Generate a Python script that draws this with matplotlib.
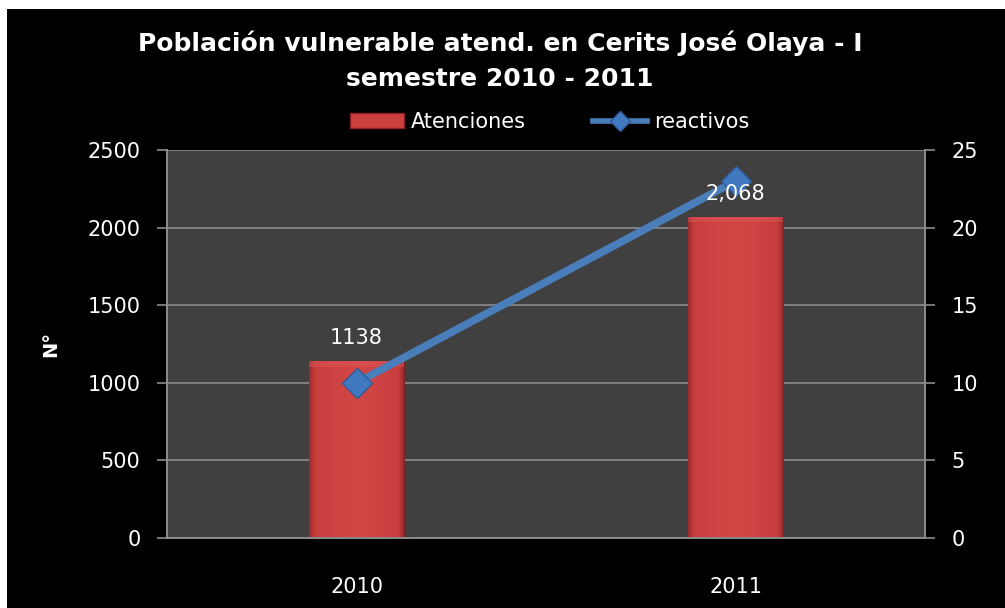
import matplotlib
matplotlib.use("Agg")
import matplotlib.pyplot as plt
import numpy as np
from matplotlib.patches import Rectangle
from matplotlib.lines import Line2D
from matplotlib.colors import LinearSegmentedColormap

years = ["2010", "2011"]
atenciones = [1138, 2068]
atenciones_labels = ["1138", "2,068"]
reactivos = [10, 23]

plt.rcParams['font.family'] = ['DejaVu Sans']

fig = plt.figure(figsize=(10.05, 6.08), dpi=100)
fig.patch.set_facecolor('white')
fig.patches.append(Rectangle((7/1005, 0), 1 - 7/1005, 1 - 9/608, transform=fig.transFigure,
                             facecolor='black', edgecolor='none', zorder=-10))

ax = fig.add_axes([167/1005, 70/608, 758/1005, 388/608])
ax.set_facecolor('#404040')
x = np.arange(len(years))
bars = ax.bar(x, atenciones, width=0.25, color='#cc4040', edgecolor='#7a2020', linewidth=0.8, zorder=2)

cmap = LinearSegmentedColormap.from_list('bev', [(0, '#9e2c2c'), (0.06, '#c83e3e'), (0.5, '#d24646'),
                                                 (0.94, '#c83e3e'), (1, '#9e2c2c')])
grad = np.linspace(0, 1, 200).reshape(1, -1)
for b in bars:
    bx, by = b.get_x(), b.get_y()
    w, h = b.get_width(), b.get_height()
    im = ax.imshow(grad, extent=[bx, bx + w, by, by + h], aspect='auto', cmap=cmap, zorder=2.1)
    im.set_clip_path(b)
    ax.add_patch(Rectangle((bx, by + h - 35), w, 35, facecolor='#e05c5c', edgecolor='none', zorder=2.2, alpha=0.4))

ax.set_xlim(-0.5, 1.5)
ax.set_ylim(0, 2500)
ax.set_yticks(np.arange(0, 2501, 500))
ax.set_xticks(x)
ax.set_xticklabels(years)
ax.grid(axis='y', color='#8c8c8c', linewidth=1.2, zorder=0)
ax.set_axisbelow(True)
for s in ax.spines.values():
    s.set_color('#8c8c8c')
    s.set_linewidth(1.2)
ax.spines['top'].set_visible(False)
ax.tick_params(axis='y', colors='#8c8c8c', labelcolor='white', labelsize=15, length=7, width=1.2, pad=12)
ax.tick_params(axis='x', colors='#8c8c8c', labelcolor='white', labelsize=15, length=0, pad=28)
ax.set_ylabel('N°', color='white', fontsize=14, fontweight='bold', labelpad=20)

ax2 = ax.twinx()
ax2.set_ylim(0, 25)
ax2.set_yticks(np.arange(0, 26, 5))
ax2.plot(x, reactivos, color='#4a7ebb', linewidth=5.5, marker='D', markersize=15,
         markerfacecolor='#4278c0', markeredgecolor='#2d5d9a', markeredgewidth=1, zorder=5)
for s in ax2.spines.values():
    s.set_color('#8c8c8c')
    s.set_linewidth(1.2)
ax2.spines['top'].set_visible(False)
ax2.tick_params(axis='y', colors='#8c8c8c', labelcolor='white', labelsize=15, length=7, width=1.2, pad=12)

for xi, v, lab in zip(x, atenciones, atenciones_labels):
    ax2.text(xi, v + 85, lab, color='white', fontsize=15, ha='center', va='bottom', zorder=6,
             transform=ax.transData)

fig.text(0.4975, 1 - 43/608, 'Población vulnerable atend. en Cerits José Olaya - I', color='white',
         fontsize=18, fontweight='bold', ha='center', va='center')
fig.text(0.4975, 1 - 79/608, 'semestre 2010 - 2011', color='white',
         fontsize=18, fontweight='bold', ha='center', va='center')

h1 = Rectangle((0, 0), 1, 1, facecolor='#cc4040', edgecolor='#8a2020')
h2 = Line2D([], [], color='#4a7ebb', linewidth=4, marker='D', markersize=10,
            markerfacecolor='#4278c0', markeredgecolor='#2d5d9a')
leg = fig.legend([h1, h2], ['Atenciones', 'reactivos'], loc='center', bbox_to_anchor=(0.547, 1 - 122/608),
                 ncol=2, frameon=False, fontsize=15, labelcolor='white', handlelength=2.6,
                 handletextpad=0.35, columnspacing=3.2)

fig.savefig('out.png', dpi=100, facecolor=fig.get_facecolor())
